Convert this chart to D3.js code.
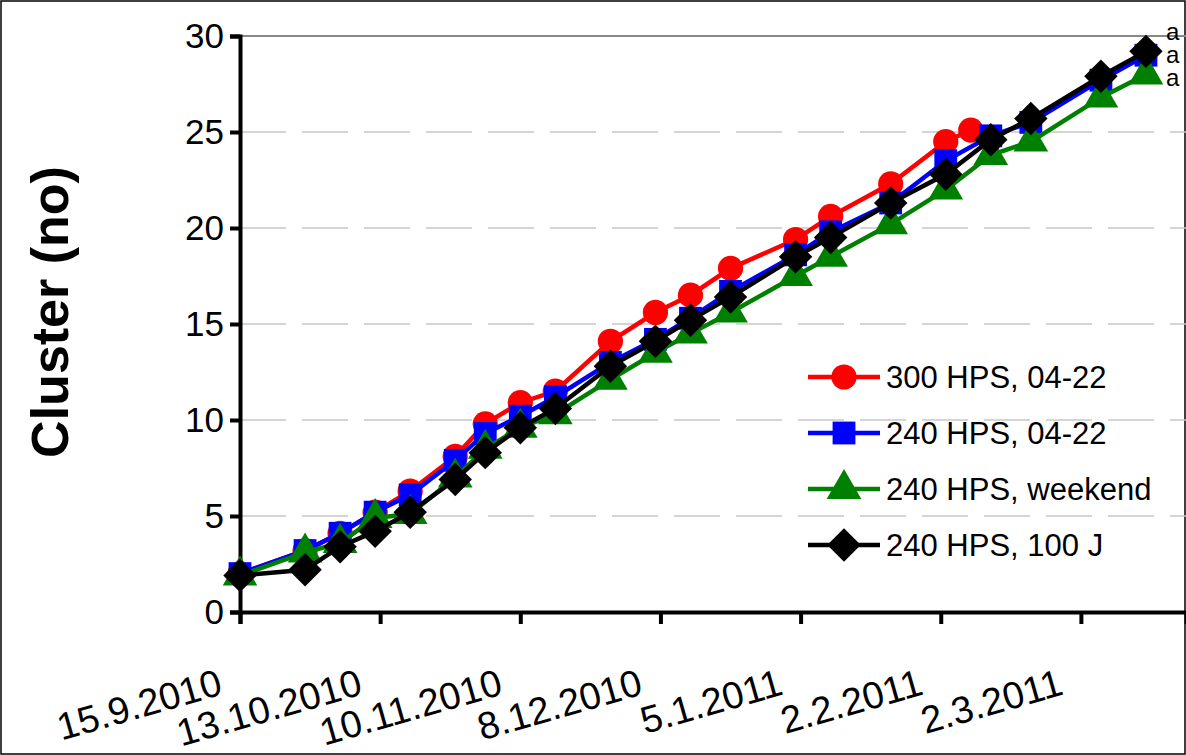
<!DOCTYPE html>
<html>
<head>
<meta charset="utf-8">
<script src="https://cdn.jsdelivr.net/npm/d3@7"></script>
<style>
  body { margin: 0; background: #fff; }
  text { font-family: "Liberation Sans", Arial, sans-serif; }
</style>
</head>
<body>
<div id="chart"></div>
<script>
// days after 15.9.2010 for each measurement
const dayOffsets = [0, 13, 20, 27, 34, 43, 49, 56, 63, 74, 83, 90, 98, 111, 118, 130, 141, 146, 150, 158, 172, 181];

const red300 = [2.0, 3.2, 4.1, 5.2, 6.3, 8.1, 9.8, 10.9, 11.5, 14.1, 15.6, 16.5, 17.9, 19.4, 20.6, 22.3, 24.5, 25.1, null, null, null, null];
const blue240 = [2.0, 3.2, 4.1, 5.2, 6.1, 7.9, 9.3, 10.2, 11.2, 13.0, 14.2, 15.3, 16.7, 18.6, 19.8, 21.3, 23.5, null, 24.8, 25.5, 27.7, 29.0];
const greenWeekend = [1.9, 3.1, 3.6, 4.9, 5.1, 7.0, 8.5, 9.6, 10.3, 12.1, 13.5, 14.5, 15.6, 17.5, 18.5, 20.2, 22.0, null, 23.8, 24.5, 26.8, 28.0];
const black100J = [1.9, 2.2, 3.4, 4.2, 5.2, 6.9, 8.3, 9.6, 10.6, 12.8, 14.1, 15.2, 16.4, 18.5, 19.5, 21.3, 22.8, null, 24.6, 25.7, 27.9, 29.2];

const tickLabels = ["15.9.2010", "13.10.2010", "10.11.2010", "8.12.2010", "5.1.2011", "2.2.2011", "2.3.2011"];
const yTicks = [0, 5, 10, 15, 20, 25, 30];
const letters = ["a", "a", "a"];

const W = 1186, H = 755;
const start = new Date(2010, 8, 15);
const dates = dayOffsets.map(d => d3.timeDay.offset(start, d));
const tickDates = tickLabels.map((_, i) => d3.timeDay.offset(start, i * 28));

const x = d3.scaleTime().domain([start, d3.timeDay.offset(start, 189.2)]).range([240, 1186]);
const y = d3.scaleLinear().domain([0, 30]).range([612, 36]);

const svg = d3.select("#chart").append("svg").attr("width", W).attr("height", H);

svg.append("rect").attr("x", 1).attr("y", 1).attr("width", W - 2).attr("height", H - 2)
  .attr("fill", "none").attr("stroke", "#000").attr("stroke-width", 1.5);

// grid
svg.selectAll(".grid").data(yTicks.slice(1)).join("line")
  .attr("x1", 240).attr("x2", W).attr("y1", d => y(d)).attr("y2", d => y(d))
  .attr("stroke", d => d === 30 ? "#888" : "#c8c8c8")
  .attr("stroke-width", d => d === 30 ? 2 : 1.5)
  .attr("stroke-dasharray", d => d === 30 ? null : "46,16");

// axes
const yAxis = svg.append("g").attr("transform", "translate(240,0)")
  .call(d3.axisLeft(y).tickValues(yTicks).tickSize(10).tickPadding(6));
const xAxis = svg.append("g").attr("transform", "translate(0,612)")
  .call(d3.axisBottom(x).tickValues(tickDates).tickSize(12).tickFormat(() => ""));
[yAxis, xAxis].forEach(a => {
  a.select(".domain").attr("stroke-width", 4);
  a.selectAll(".tick line").attr("stroke-width", 4);
});
yAxis.selectAll("text").attr("font-size", 35).attr("fill", "#000").attr("font-family", "Liberation Sans, Arial, sans-serif");

svg.selectAll(".xlab").data(tickDates).join("text")
  .attr("transform", d => `translate(${x(d) - 16},${694}) rotate(-16)`)
  .attr("text-anchor", "end").attr("font-size", 38)
  .text((d, i) => tickLabels[i]);

svg.append("text").attr("transform", "translate(68,312) rotate(-90)")
  .attr("text-anchor", "middle").attr("font-size", 52).attr("font-weight", "bold")
  .text("Cluster (no)");

const diamond = { draw(ctx, size) { const r = Math.sqrt(size / 2); ctx.moveTo(0, -r); ctx.lineTo(r, 0); ctx.lineTo(0, r); ctx.lineTo(-r, 0); ctx.closePath(); } };

const series = [
  { name: "300 HPS, 04-22", values: red300, color: "#ff0000", shape: d3.symbolCircle, size: 500 },
  { name: "240 HPS, 04-22", values: blue240, color: "#0000ff", shape: d3.symbolSquare, size: 520 },
  { name: "240 HPS, weekend", values: greenWeekend, color: "#008000", shape: d3.symbolTriangle, size: 520 },
  { name: "240 HPS, 100 J", values: black100J, color: "#000000", shape: diamond, size: 560 }
];

const line = d3.line().x(d => x(d.t)).y(d => y(d.v));

series.forEach(s => {
  const pts = s.values.map((v, i) => ({ t: dates[i], v })).filter(d => d.v != null);
  svg.append("path").datum(pts).attr("d", line).attr("fill", "none")
    .attr("stroke", s.color).attr("stroke-width", 4.5);
  svg.selectAll(null).data(pts).join("path")
    .attr("transform", d => `translate(${x(d.t)},${y(d.v)})`)
    .attr("d", d3.symbol().type(s.shape).size(s.size)).attr("fill", s.color);
});

// legend
const legend = svg.append("g");
series.forEach((s, i) => {
  const ly = 377 + i * 56;
  legend.append("line").attr("x1", 808).attr("x2", 880).attr("y1", ly).attr("y2", ly)
    .attr("stroke", s.color).attr("stroke-width", 4.5);
  legend.append("path").attr("transform", `translate(844,${ly})`)
    .attr("d", d3.symbol().type(s.shape).size(s.size)).attr("fill", s.color);
  legend.append("text").attr("x", 886).attr("y", ly + 11).attr("font-size", 31).text(s.name);
});

// significance letters
svg.selectAll(".let").data(letters).join("text")
  .attr("x", 1166).attr("y", (d, i) => 40 + i * 23).attr("font-size", 24).text(d => d);
</script>
</body>
</html>
